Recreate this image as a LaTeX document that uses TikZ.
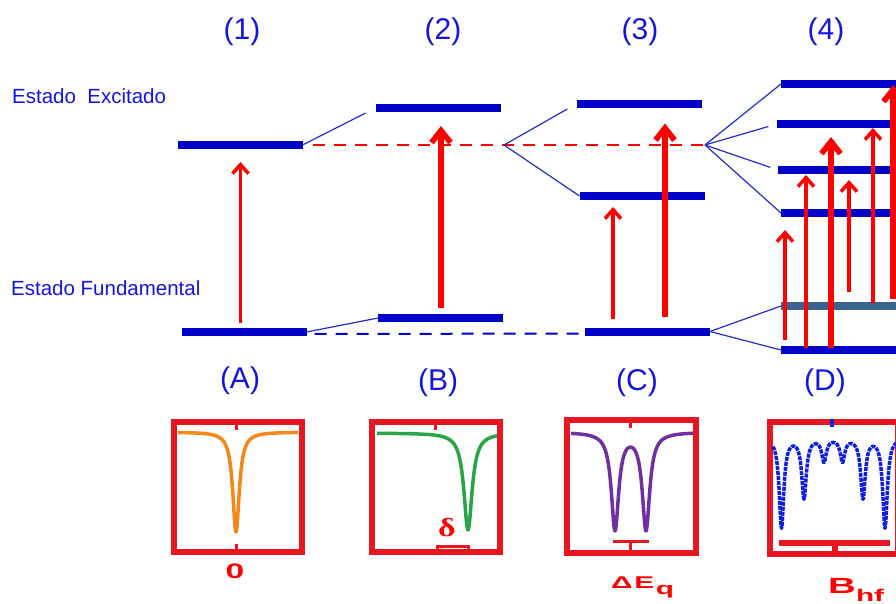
\documentclass[tikz,border=0pt]{standalone}
\usepackage{fontspec}
\setmainfont{Liberation Sans}
\newfontfamily\deltafont{Liberation Serif}
\usetikzlibrary{arrows.meta}
\definecolor{lvblue}{RGB}{0,0,200}
\definecolor{lvsteel}{RGB}{60,100,145}
\definecolor{txblue}{RGB}{20,20,225}
\definecolor{lnblue}{RGB}{35,45,200}
\definecolor{bxred}{RGB}{232,22,32}
\definecolor{spor}{RGB}{245,135,25}
\definecolor{spgr}{RGB}{40,165,70}
\definecolor{sppu}{RGB}{112,48,160}
\definecolor{spbl}{RGB}{15,30,225}
\tikzset{
  lv/.style={fill=lvblue,minimum width=125pt,minimum height=8pt,inner sep=0pt,outer sep=0pt},
  spl/.style={lnblue,line width=1.2pt},
  arrT/.style={red,line width=3.5pt,-{Straight Barb[length=9pt,width=16pt]}},
  arrK/.style={red,line width=5.7pt,-{Straight Barb[length=12pt,width=19pt]}},
  numlab/.style={text=txblue,font=\fontsize{30}{36}\selectfont,inner sep=0pt},
  stlab/.style={text=txblue,font=\fontsize{20.5}{24}\selectfont,inner sep=0pt,anchor=west},
  spbox/.style={draw=bxred,line width=6pt,minimum width=128pt,minimum height=130pt,inner sep=0pt},
  tck/.style={bxred,line width=3pt},
  redlab/.style={text=red,font=\bfseries,inner sep=0pt},
  spec/.style={line width=3.5pt,line join=round}
}
\begin{document}
\begin{tikzpicture}[x=1pt,y=-1pt]
\useasboundingbox (0,0) rectangle (896,603);
\clip (0,0) rectangle (896,603);
\node[numlab] (n1) at (242,32) {(1)};
\node[numlab] (n2) at (443,32) {(2)};
\node[numlab] (n3) at (640,32) {(3)};
\node[numlab] (n4) at (826,32) {(4)};
\node[stlab] (ex) at (12,96) {Estado~~Excitado};
\node[stlab] (fu) at (11,288) {Estado Fundamental};
\node[lv] (e1) at (240,145) {};
\node[lv] (g1) at (244,332) {};
\node[lv] (e2) at (438,108) {};
\node[lv] (g2) at (440.5,318) {};
\node[lv] (e3a) at (639.5,103.5) {};
\node[lv] (e3b) at (642,196) {};
\node[lv] (g3) at (647.5,331.5) {};
\node[lv,anchor=west] (e4a) at (781,84) {};
\node[lv,anchor=west] (e4b) at (777,124) {};
\node[lv,anchor=west] (e4c) at (778,170) {};
\node[lv,anchor=west] (e4d) at (781,213) {};
\node[lv,anchor=west,fill=lvsteel] (g4a) at (781,306) {};
\node[lv,anchor=west] (g4b) at (781,350) {};
\coordinate (s2) at (504,145);
\coordinate (s3) at (705,145);
\draw[red,line width=2.5pt,dash pattern=on 12pt off 9pt,shorten <=10pt] (e1.east) -- (s3);
\draw[lvblue,line width=2pt,dash pattern=on 12pt off 9pt,shorten <=8pt] ([yshift=-2pt]g1.east) -- ([yshift=-2pt]g3.west);
\draw[spl,shorten >=11pt] (e1.east) -- (e2.west);
\draw[spl] (g1.east) -- (g2.west);
\draw[spl,shorten >=11pt] (s2) -- (e3a.west);
\draw[spl] (s2) -- (e3b.west);
\draw[spl] (s3) -- (e4a.west);
\draw[spl,shorten >=9pt] (s3) -- (e4b.west);
\draw[spl,shorten >=8pt] (s3) -- (e4c.west);
\draw[spl] (s3) -- (e4d.west);
\draw[spl] (g3.east) -- (g4a.west);
\draw[spl] (g3.east) -- (g4b.west);
\foreach \lo/\hi/\dx/\sa/\sb/\sty in {
    g1/e1/59/5/13/arrT, g2/e2/63/6/14/arrK,
    g3/e3b/28/9/7/arrT, g3/e3a/80/11/16/arrK,
    g4b/e4d/4/6/13/arrT, g4b/e4c/25/-2/1/arrT, g4b/e4b/50/-2/9/arrK,
    g4a/e4c/68/10/6/arrT, g4a/e4b/92/-1/0/arrT, g4a/e4a/112/3/-3/arrK}
{
  \coordinate (t) at ([xshift=\dx pt]\lo.north west);
  \draw[\sty,shorten <=\sa pt,shorten >=\sb pt] (t) -- (t |- \hi.south);
}
\node[numlab] (lA) at (240,381) {(A)};
\node[numlab] (lB) at (438,383) {(B)};
\node[numlab] (lC) at (637,383) {(C)};
\node[numlab] (lD) at (825,383) {(D)};
\node[spbox] (bA) at (238,487) {};
\node[spbox] (bB) at (436,487) {};
\node[spbox,minimum width=129pt,minimum height=133pt] (bC) at (631.5,486.5) {};
\node[spbox,minimum height=132pt] (bD) at (834,488) {};
\draw[spec,spor] plot[domain=178:298,samples=241] (\x,{432+100/(1+((\x-236)/4)^2)});
\draw[spec,spgr] plot[domain=377:497,samples=241] (\x,{433+97/(1+((\x-468)/5)^2)});
\draw[spec,sppu] plot[domain=571:693,samples=245] (\x,{432+97/(1+((\x-615)/4.5)^2)+97/(1+((\x-646)/4.5)^2)});
\draw[spec,spbl,dash pattern=on 4pt off 1pt] plot[domain=773:896,samples=493]
  (\x,{437+90/(1+((\x-781.5)/2.8)^2)+60/(1+((\x-804)/2.8)^2)+23/(1+((\x-824)/2.8)^2)+23/(1+((\x-842.5)/2.8)^2)+60/(1+((\x-863)/2.8)^2)+90/(1+((\x-885)/2.8)^2)});
\draw[tck] ([xshift=-2pt]bA.north) -- ++(0,11);
\draw[tck] ([xshift=-2pt]bA.south) -- ++(0,-11);
\draw[tck] ([xshift=-1pt]bB.north) -- ++(0,11);
\draw[tck] ([xshift=1pt]bB.south) -- ++(0,-9) -- ++(31,0) -- ++(0,9);
\draw[tck] ([xshift=-1.5pt]bC.north) -- ++(0,11);
\draw[tck] ([xshift=-1.5pt]bC.south) -- ++(0,-15) ++(-17,0) -- ++(36,0);
\draw[tck,line width=5.5pt] ([xshift=1pt]bD.south) -- ++(0,-14) ++(-56,0) -- ++(111,0);
\draw[spbl,line width=4pt] ([xshift=-2pt]bD.north) -- ++(0,8);
\node[redlab] (dl) at (447,528) {\scalebox{1.3}[1]{\fontsize{26}{30}\deltafont\bfseries δ}};
\node[redlab] (zA) at (235,571) {\scalebox{1.6}[1]{\fontsize{21}{24}\selectfont 0}};
\node[redlab,anchor=base west] (zC) at (611,588) {\scalebox{1.75}[1]{\fontsize{17}{20}\selectfont Δ\kern1pt E\kern1pt\raisebox{-6pt}{q}}};
\node[redlab,anchor=base west] (zD) at (828,593) {\scalebox{1.75}[1]{\fontsize{22}{26}\selectfont B\raisebox{-8pt}{\fontsize{17}{20}\selectfont hf}}};
\end{tikzpicture}
\end{document}
